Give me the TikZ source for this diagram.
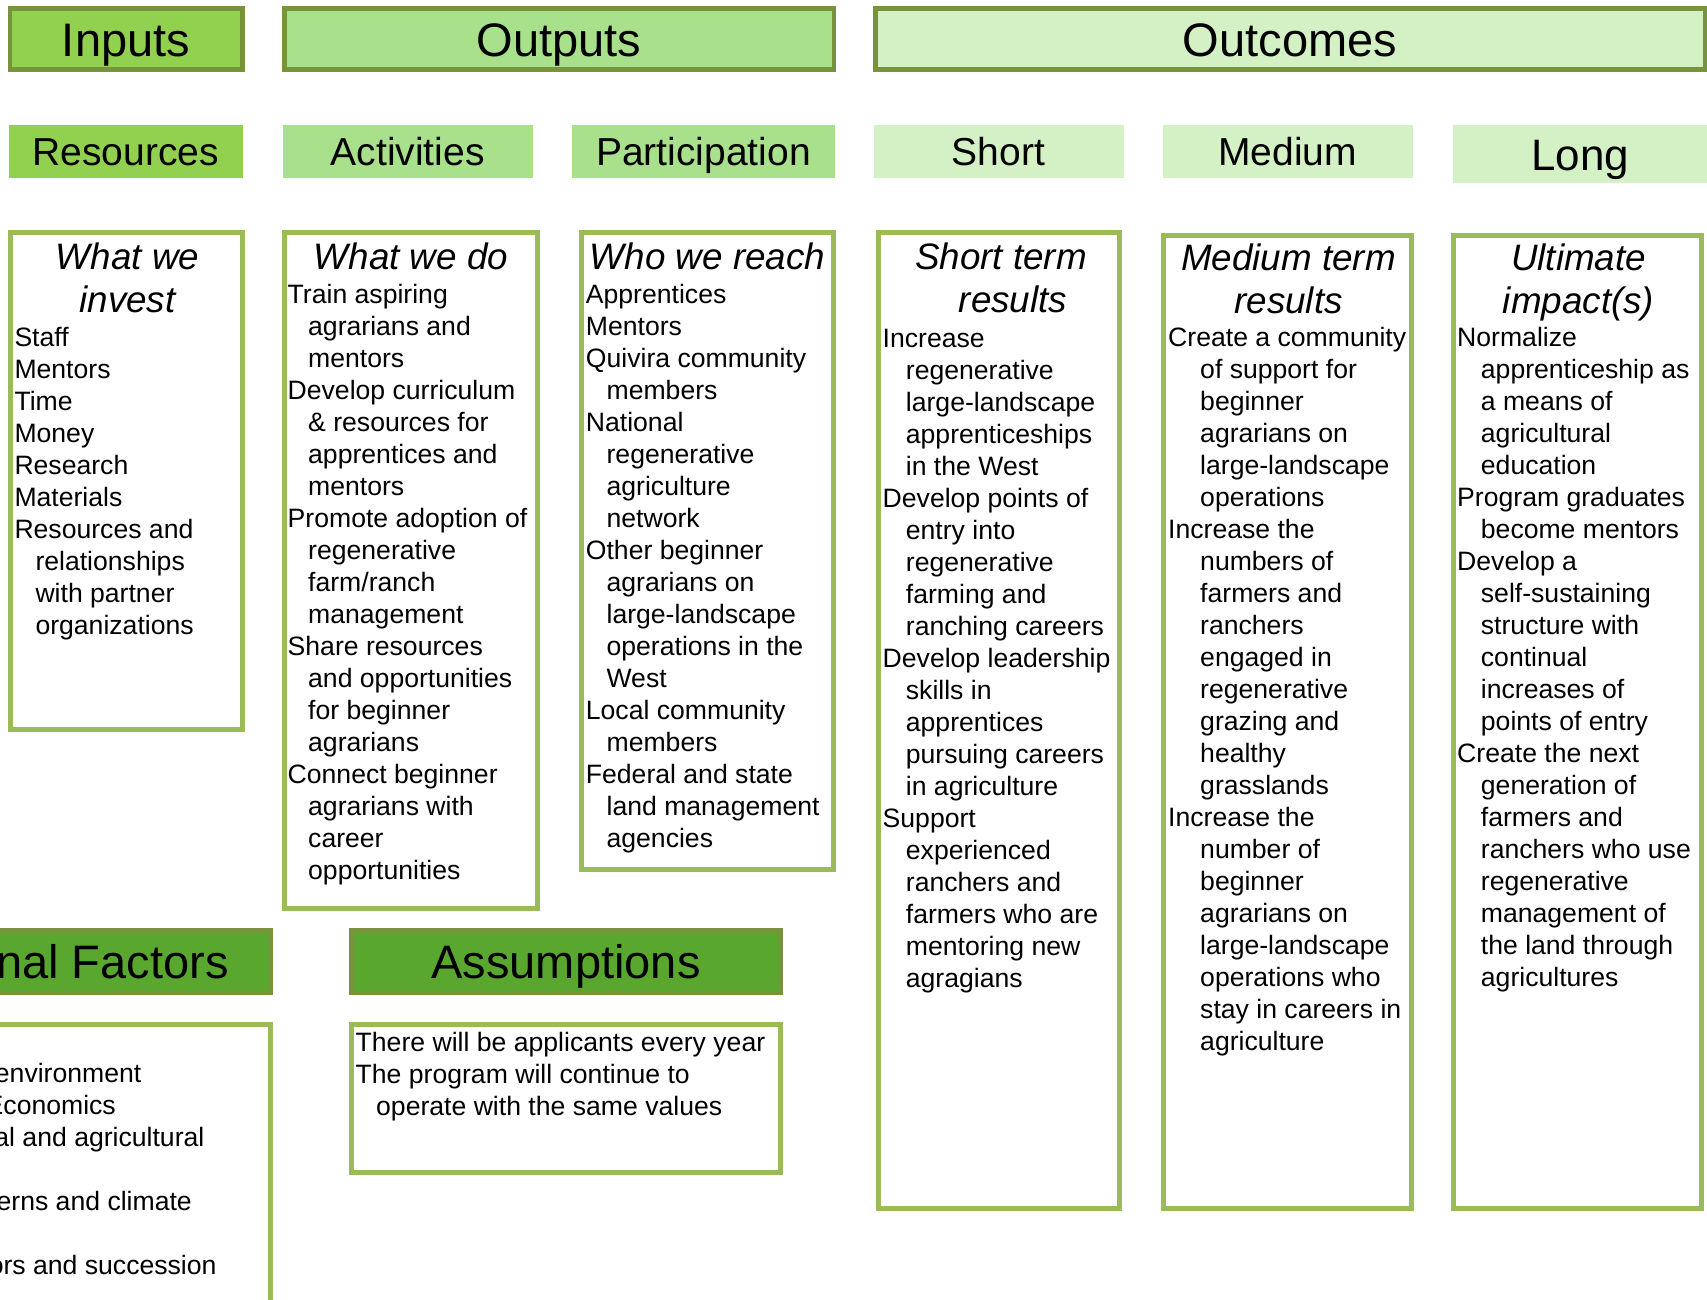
\documentclass[tikz,border=0pt]{standalone}
\usepackage{fontspec}
\setmainfont{Liberation Sans}
\usetikzlibrary{fit}
\definecolor{ginput}{HTML}{92D050}
\definecolor{goutput}{HTML}{A9E08B}
\definecolor{goutcome}{HTML}{D4F0C5}
\definecolor{gdark}{HTML}{5AA72F}
\definecolor{golive}{HTML}{77933C}
\definecolor{gborder}{HTML}{9BBB59}
\newcommand{\myind}[1]{\hspace*{#1pt}}
\begin{document}
\begin{tikzpicture}[x=1pt,y=-1pt,
  hdrbox/.style={draw=golive, line width=4.5pt, inner sep=0pt},
  subbox/.style={inner sep=0pt, draw=none},
  contbox/.style={draw=gborder, line width=5pt, fill=white, inner sep=0pt},
  hdrtext/.style={inner sep=0pt, anchor=base, font=\fontsize{47}{56}\selectfont},
  subtext/.style={inner sep=0pt, anchor=base, font=\fontsize{39}{47}\selectfont},
  titletext/.style={inner sep=0pt, anchor=base, font=\fontsize{36.8}{43.5}\selectfont\itshape},
  itemtext/.style={inner sep=0pt, anchor=base west, font=\fontsize{26.6}{32}\selectfont},
  fragtext/.style={inner sep=0pt, anchor=base east, font=\fontsize{26.6}{32}\selectfont}]
\useasboundingbox (0,0) rectangle (1707,1299);
\fill[white] (0,0) rectangle (1707,1299);
\clip (0,0) rectangle (1707,1299);

% ---------- top headers ----------
\node[hdrbox, fill=ginput,   fit={(10,8.5) (242.5,69.5)}] (inputsbox) {};
\node[hdrbox, fill=goutput,  fit={(284.25,8.5) (833.75,69.5)}] (outputsbox) {};
\node[hdrbox, fill=goutcome, fit={(875.25,8.5) (1704.75,69.5)}] (outcomesbox) {};
\node[hdrtext] (inputs) at (126,56.5) {Inputs};
\node[hdrtext] (outputs) at (559,56.5) {Outputs};
\node[hdrtext] (outcomes) at (1290,56.5) {Outcomes};

% ---------- sub headers ----------
\node[subbox, fill=ginput,   fit={(8.5,125) (243,177.5)}] (resbox) {};
\node[subbox, fill=goutput,  fit={(283,125) (532.5,177.5)}] (actbox) {};
\node[subbox, fill=goutput,  fit={(572,125) (835,177.5)}] (partbox) {};
\node[subbox, fill=goutcome, fit={(873.5,125) (1123.5,177.5)}] (shortbox) {};
\node[subbox, fill=goutcome, fit={(1163,125) (1412.5,177.5)}] (medbox) {};
\node[subbox, fill=goutcome, fit={(1453,125) (1707,183)}] (longbox) {};
\node[subtext] (resources) at (125.7,165.5) {Resources};
\node[subtext] (activities) at (407.7,165.5) {Activities};
\node[subtext] (participation) at (703.5,165.5) {Participation};
\node[subtext] (short) at (998.5,165.5) {Short};
\node[subtext] (medium) at (1287.7,165.5) {Medium};
\node[subtext, font=\fontsize{44}{52}\selectfont] (long) at (1580,170) {Long};

% ---------- content boxes ----------
\node[contbox, fit={(10,232.5) (242.5,729.5)}] (investbox) {};
\node[contbox, fit={(284.5,232.5) (537.5,908.5)}] (dobox) {};
\node[contbox, fit={(581.5,232.5) (833.5,869.5)}] (reachbox) {};
\node[contbox, fit={(878.5,232.5) (1119.5,1208.5)}] (shorttermbox) {};
\node[contbox, fit={(1163.5,235.5) (1411.5,1208.5)}] (medtermbox) {};
\node[contbox, fit={(1453.5,235.5) (1701.5,1208.5)}] (ultbox) {};

\node[titletext] (investtitle) at (127.5,269) {\begin{tabular}[t]{@{}c@{}}What we\\invest\end{tabular}};
\node[titletext] (dotitle) at (411,269) {What we do};
\node[titletext] (reachtitle) at (707.5,269) {Who we reach};
\node[titletext] (shorttitle) at (1001,269) {\begin{tabular}[t]{@{}c@{}}Short term\\\myind{24}results\end{tabular}};
\node[titletext] (medtitle) at (1288.5,270) {\begin{tabular}[t]{@{}c@{}}Medium term\\results\end{tabular}};
\node[titletext] (ulttitle) at (1578.5,270) {\begin{tabular}[t]{@{}c@{}}Ultimate\\impact(s)\end{tabular}};

\node[itemtext] (investtxt) at (14.3,346) {\begin{tabular}[t]{@{}l@{}}Staff\\Mentors\\Time\\Money\\Research\\Materials\\Resources and\\\myind{21}relationships\\\myind{21}with partner\\\myind{21}organizations\end{tabular}};

\node[itemtext] (dotxt) at (287.5,303) {\begin{tabular}[t]{@{}l@{}}Train aspiring\\\myind{20.5}agrarians and\\\myind{20.5}mentors\\Develop curriculum\\\myind{20.5}\& resources for\\\myind{20.5}apprentices and\\\myind{20.5}mentors\\Promote adoption of\\\myind{20.5}regenerative\\\myind{20.5}farm/ranch\\\myind{20.5}management\\Share resources\\\myind{20.5}and opportunities\\\myind{20.5}for beginner\\\myind{20.5}agrarians\\Connect beginner\\\myind{20.5}agrarians with\\\myind{20.5}career\\\myind{20.5}opportunities\end{tabular}};

\node[itemtext] (reachtxt) at (585.7,303) {\begin{tabular}[t]{@{}l@{}}Apprentices\\Mentors\\Quivira community\\\myind{20.7}members\\National\\\myind{20.7}regenerative\\\myind{20.7}agriculture\\\myind{20.7}network\\Other beginner\\\myind{20.7}agrarians on\\\myind{20.7}large-landscape\\\myind{20.7}operations in the\\\myind{20.7}West\\Local community\\\myind{20.7}members\\Federal and state\\\myind{20.7}land management\\\myind{20.7}agencies\end{tabular}};

\node[itemtext] (shorttxt) at (882.5,347) {\begin{tabular}[t]{@{}l@{}}Increase\\\myind{23.2}regenerative\\\myind{23.2}large-landscape\\\myind{23.2}apprenticeships\\\myind{23.2}in the West\\Develop points of\\\myind{23.2}entry into\\\myind{23.2}regenerative\\\myind{23.2}farming and\\\myind{23.2}ranching careers\\Develop leadership\\\myind{23.2}skills in\\\myind{23.2}apprentices\\\myind{23.2}pursuing careers\\\myind{23.2}in agriculture\\Support\\\myind{23.2}experienced\\\myind{23.2}ranchers and\\\myind{23.2}farmers who are\\\myind{23.2}mentoring new\\\myind{23.2}agragians\end{tabular}};

\node[itemtext] (medtxt) at (1168,346.5) {\begin{tabular}[t]{@{}l@{}}Create a community\\\myind{32}of support for\\\myind{32}beginner\\\myind{32}agrarians on\\\myind{32}large-landscape\\\myind{32}operations\\Increase the\\\myind{32}numbers of\\\myind{32}farmers and\\\myind{32}ranchers\\\myind{32}engaged in\\\myind{32}regenerative\\\myind{32}grazing and\\\myind{32}healthy\\\myind{32}grasslands\\Increase the\\\myind{32}number of\\\myind{32}beginner\\\myind{32}agrarians on\\\myind{32}large-landscape\\\myind{32}operations who\\\myind{32}stay in careers in\\\myind{32}agriculture\end{tabular}};

\node[itemtext] (ulttxt) at (1457,346.5) {\begin{tabular}[t]{@{}l@{}}Normalize\\\myind{23.7}apprenticeship as\\\myind{23.7}a means of\\\myind{23.7}agricultural\\\myind{23.7}education\\Program graduates\\\myind{23.7}become mentors\\Develop a\\\myind{23.7}self-sustaining\\\myind{23.7}structure with\\\myind{23.7}continual\\\myind{23.7}increases of\\\myind{23.7}points of entry\\Create the next\\\myind{23.7}generation of\\\myind{23.7}farmers and\\\myind{23.7}ranchers who use\\\myind{23.7}regenerative\\\myind{23.7}management of\\\myind{23.7}the land through\\\myind{23.7}agricultures\end{tabular}};

% ---------- bottom row ----------
\node[hdrbox, fill=gdark, fit={(-155.75,930.25) (270.75,992.75)}] (extbox) {};
\node[hdrbox, fill=gdark, fit={(351.25,930.25) (780.75,992.75)}] (assbox) {};
\node[hdrtext] (external) at (57.5,978.3) {External Factors};
\node[hdrtext] (assumptions) at (566,978.3) {Assumptions};

\node[contbox, fit={(-200,1024.5) (270.5,1400)}] (extcont) {};
\node[contbox, fit={(351.5,1024.5) (780.5,1172.5)}] (asscont) {};

\node[fragtext] (ext1) at (141.5,1082.7) {environment};
\node[fragtext] (ext2) at (116,1114.7) {Economics};
\node[fragtext] (ext3) at (204.6,1146.7) {al and agricultural};
\node[fragtext] (ext4) at (192,1210.7) {erns and climate};
\node[fragtext] (ext5) at (216.7,1274.7) {ors and succession};

\node[itemtext] (asstxt) at (355.5,1051.7) {\begin{tabular}[t]{@{}l@{}}There will be applicants every year\\The program will continue to\\\myind{20.5}operate with the same values\end{tabular}};
\end{tikzpicture}
\end{document}
